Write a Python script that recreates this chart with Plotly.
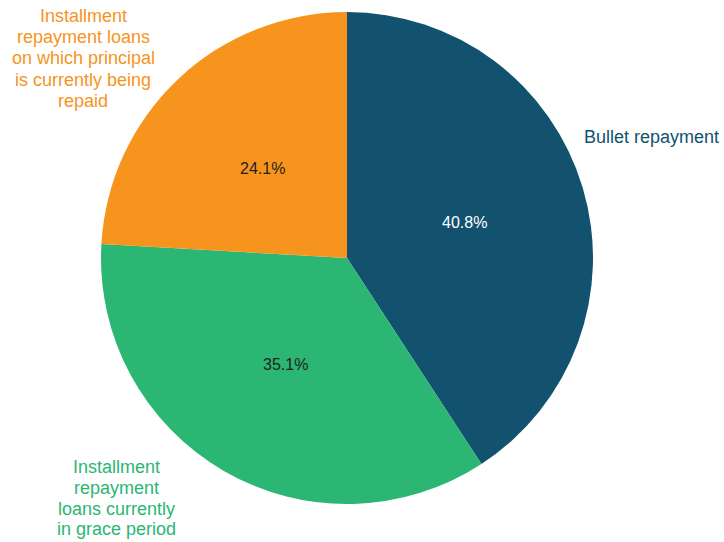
import math
import plotly.graph_objects as go

# Loan repayment structure shares (%)
categories = [
    "Bullet repayment",
    "Installment repayment loans currently in grace period",
    "Installment repayment loans on which principal is currently being repaid",
]
shares = [40.8, 35.1, 24.1]
colors = ["#12526F", "#2BB673", "#F7941D"]
pct_font_colors = ["#FFFFFF", "#222222", "#222222"]

W, H = 724, 542
CX, CY, R = 347, 258, 246  # pie centre and radius in pixels

FONT = "Arial, 'Liberation Sans', sans-serif"

fig = go.Figure(
    go.Pie(
        labels=categories,
        values=shares,
        sort=False,
        direction="clockwise",
        rotation=0,
        marker=dict(colors=colors, line=dict(width=0)),
        textinfo="none",
        hoverinfo="label+percent",
        showlegend=False,
        domain=dict(x=[(CX - R) / W, (CX + R) / W], y=[(H - CY - R) / H, (H - CY + R) / H]),
    )
)

annotations = []

# Percentage labels at the middle angle of each slice, half-way out
total = sum(shares)
cum = 0.0
for v, fc in zip(shares, pct_font_colors):
    mid = (cum + v / 2) / total * 2 * math.pi
    cum += v
    px = CX + 0.5 * R * math.sin(mid)
    py = CY - 0.5 * R * math.cos(mid)
    annotations.append(
        dict(
            x=px / W, y=1 - py / H, xref="paper", yref="paper",
            text=f"{v / total * 100:.1f}%", showarrow=False,
            font=dict(family=FONT, size=16, color=fc),
            xanchor="center", yanchor="middle",
        )
    )

# Category labels outside the pie, one line per annotation
def label_lines(lines, x, y0, step, color, anchor):
    for i, ln in enumerate(lines):
        annotations.append(
            dict(
                x=x / W, y=1 - (y0 + i * step) / H, xref="paper", yref="paper",
                text=ln, showarrow=False,
                font=dict(family=FONT, size=18, color=color),
                xanchor=anchor, yanchor="middle",
            )
        )

label_lines(["Bullet repayment"], 582, 137, 0, colors[0], "left")
label_lines(
    ["Installment", "repayment", "loans currently", "in grace period"],
    116, 467, 20.8, colors[1], "center",
)
label_lines(
    ["Installment", "repayment loans", "on which principal", "is currently being", "repaid"],
    83, 16, 21.2, colors[2], "center",
)

fig.update_layout(
    width=W, height=H,
    margin=dict(l=0, r=0, t=0, b=0),
    paper_bgcolor="white",
    plot_bgcolor="white",
    annotations=annotations,
)

fig.write_html("out.html")
